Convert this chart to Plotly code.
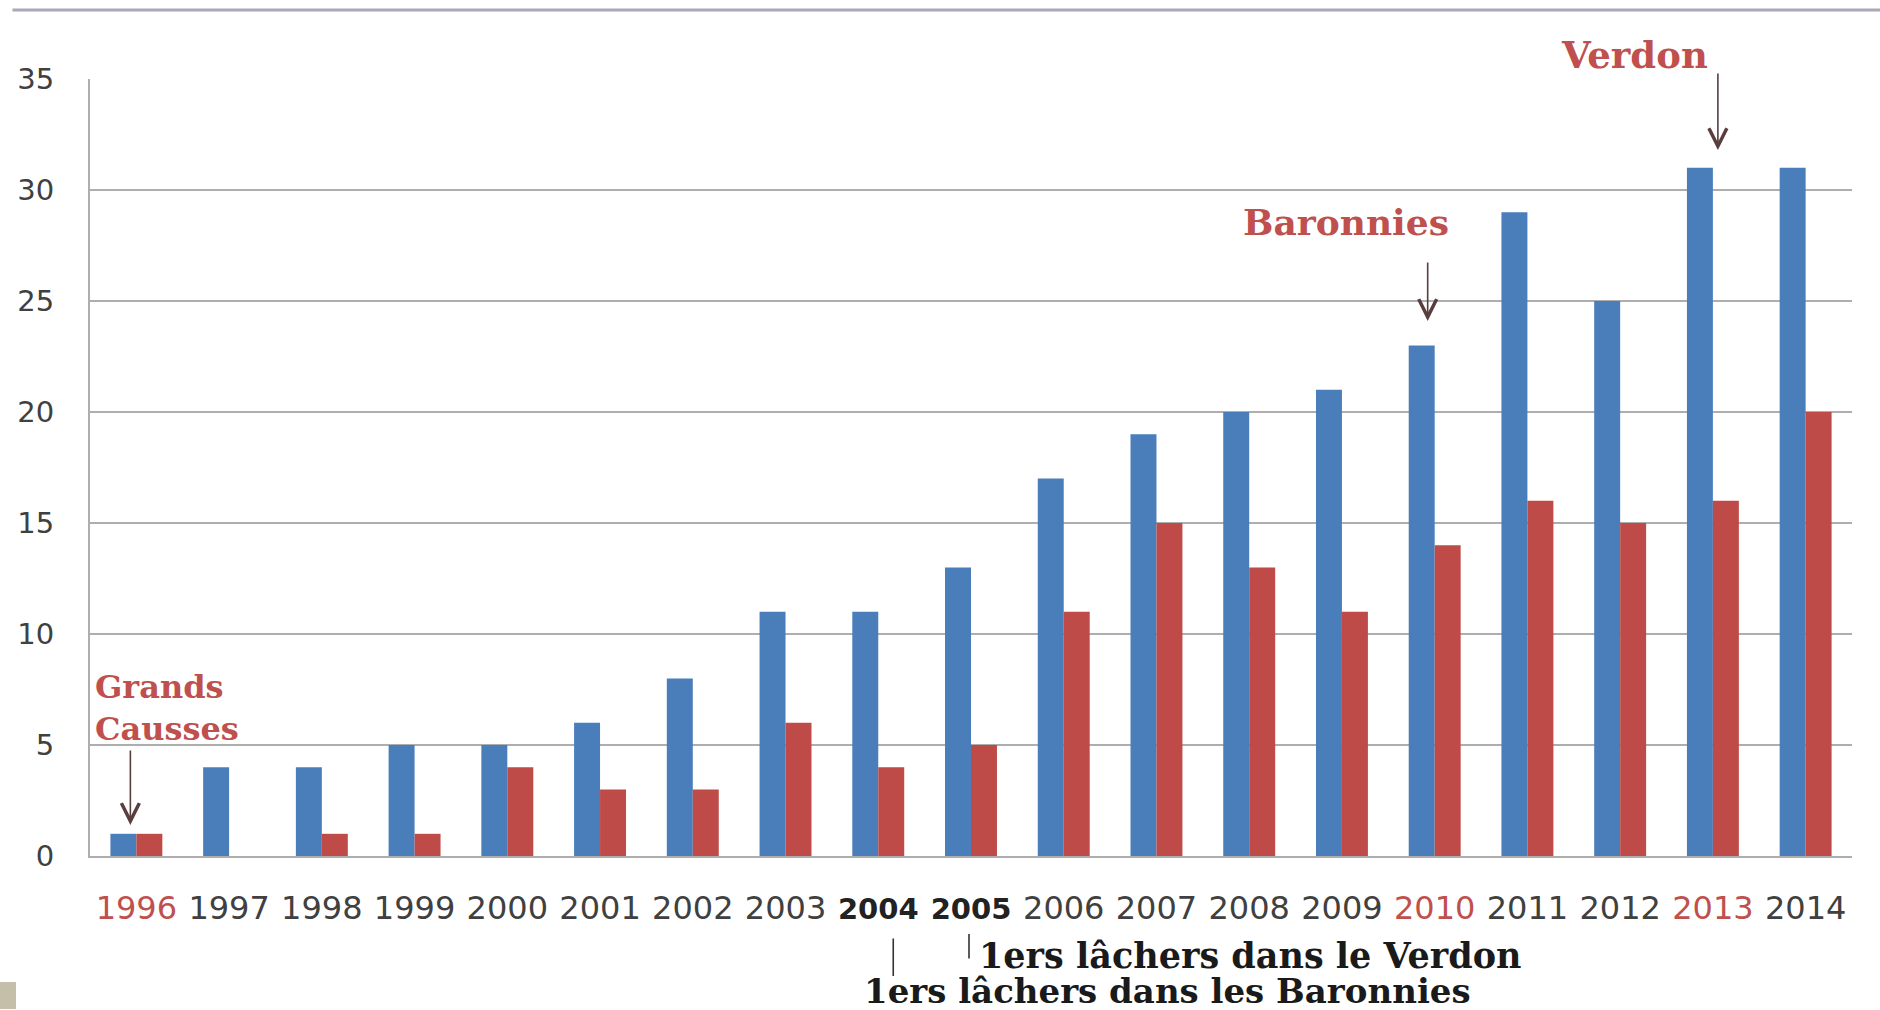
import plotly.graph_objects as go

years = [str(y) for y in range(1996, 2015)]
blue_vals = [1, 4, 4, 5, 5, 6, 8, 11, 11, 13, 17, 19, 20, 21, 23, 29, 25, 31, 31]
red_vals = [1, 0, 1, 1, 4, 3, 3, 6, 4, 5, 11, 15, 13, 11, 14, 16, 15, 16, 20]
red_years = ["1996", "2010", "2013"]
bold_years = ["2004", "2005"]
y_ticks = [0, 5, 10, 15, 20, 25, 30, 35]
Y_MAX = 35

BLUE = "#4a7ebb"
RED = "#be4b48"
LABEL_RED = "#c0504d"
GREY_TXT = "#404040"
GRID = "#aeaeae"
SERIF = "DejaVu Serif"

def tick_label(y):
    if y in red_years:
        return f"<span style='color:{LABEL_RED}'>{y}</span>"
    if y in bold_years:
        return f"<b><span style='font-size:29px;color:#222'>{y}</span></b>"
    return y

def idx(y):
    return years.index(y)

def yd(v):
    # value -> y-domain fraction (for notes placed outside the axis range)
    return v / Y_MAX

fig = go.Figure()
fig.add_trace(go.Bar(x=years, y=blue_vals, marker=dict(color=BLUE, line=dict(width=0)), name="a"))
fig.add_trace(go.Bar(x=years, y=red_vals, marker=dict(color=RED, line=dict(width=0)), name="b"))

fig.update_layout(
    width=1880, height=1010,
    margin=dict(l=90, r=28, t=79, b=154),
    paper_bgcolor="white", plot_bgcolor="white",
    barmode="group", bargap=0.44, bargroupgap=0,
    showlegend=False,
    font=dict(family="DejaVu Sans", size=30, color=GREY_TXT),
)
fig.update_xaxes(
    type="category", range=[-0.5, len(years) - 0.5],
    tickvals=years, ticktext=[tick_label(y) for y in years], tickangle=0,
    tickfont=dict(family="DejaVu Sans", size=32, color=GREY_TXT),
    showline=True, linecolor=GRID, linewidth=2, ticks="", ticklabelstandoff=23,
    showgrid=False,
)
fig.update_yaxes(
    range=[0, Y_MAX], tickvals=y_ticks, showgrid=True, gridcolor=GRID, gridwidth=2,
    showline=True, linecolor=GRID, linewidth=2, ticks="", zeroline=False,
    tickfont=dict(family="DejaVu Sans", size=29, color=GREY_TXT), ticklabelstandoff=28,
)

arrow_col = "#5a3d3d"
ann = []
ann.append(dict(x=idx("2013"), y=yd(36.1), xref="x", yref="y domain", yanchor="middle",
                text="<b>Verdon</b>", showarrow=False,
                xshift=-78, font=dict(family=SERIF, size=37, color=LABEL_RED)))
ann.append(dict(x=idx("2010"), y=28.56, xref="x", yref="y", yanchor="middle",
                text="<b>Baronnies</b>", showarrow=False,
                xshift=-89, font=dict(family=SERIF, size=36, color=LABEL_RED)))
ann.append(dict(x=idx("1996"), y=6.67, xref="x", yref="y", yanchor="middle",
                text="<b>Grands<br>Causses</b>", showarrow=False,
                xanchor="left", align="left", xshift=-43,
                font=dict(family=SERIF, size=32, color=LABEL_RED)))
for cat, ytip, xs, ay in [("2013", 31.8, 5, -78), ("2010", 24.1, -7, -60), ("1996", 1.4, -6, -76)]:
    ann.append(dict(x=idx(cat), y=ytip, xref="x", yref="y", text="", showarrow=True,
                    ax=0, ay=ay, xshift=xs, arrowhead=5, arrowsize=2.2, arrowwidth=1.6,
                    arrowcolor=arrow_col, standoff=0))
ann.append(dict(x=idx("2005"), y=yd(-4.5), xref="x", yref="y domain", yanchor="middle",
                text="<b>1ers lâchers dans le Verdon</b>",
                showarrow=False, xanchor="left", xshift=6,
                font=dict(family=SERIF, size=35, color="#1a1a1a")))
ann.append(dict(x=idx("2004"), y=yd(-6.08), xref="x", yref="y domain", yanchor="middle",
                text="<b>1ers lâchers dans les Baronnies</b>",
                showarrow=False, xanchor="left", xshift=-16,
                font=dict(family=SERIF, size=34, color="#1a1a1a")))
for cat, ytip, xs, ay in [("2004", -5.4, 15, -39), ("2005", -4.62, -2, -26)]:
    ann.append(dict(x=idx(cat), y=yd(ytip), xref="x", yref="y domain", text="", showarrow=True,
                    ax=0, ay=ay, xshift=xs, arrowhead=0, arrowwidth=1.6,
                    arrowcolor="#333333", standoff=0))
fig.update_layout(annotations=ann)

fig.add_shape(type="line", xref="paper", yref="paper", x0=-0.044, x1=1.02, y0=1.0888, y1=1.0888,
              line=dict(color="#a8a8b8", width=3))
fig.add_shape(type="rect", xref="paper", yref="paper", x0=-0.0511, x1=-0.042, y0=-0.1969, y1=-0.1622,
              fillcolor="#c5bfaa", line=dict(width=0))

fig.write_html("out.html", config={"displayModeBar": False},
               post_script="document.body.style.margin='0';document.body.style.overflow='hidden';")
